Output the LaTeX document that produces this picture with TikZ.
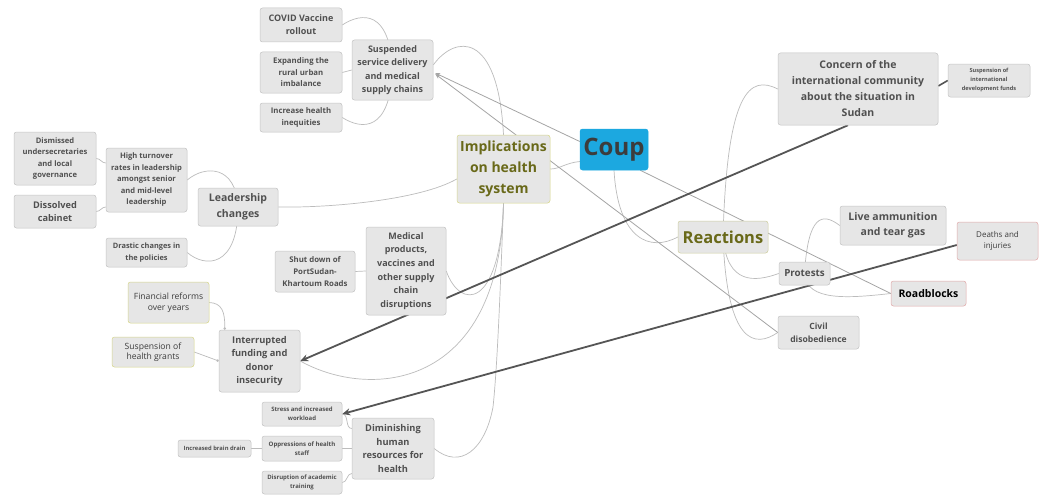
\documentclass[tikz,border=0pt]{standalone}
\usepackage{fontspec}
\setmainfont{Open Sans}
\usetikzlibrary{arrows.meta,backgrounds,calc}
\definecolor{bf}{RGB}{230,230,230}
\definecolor{bd}{RGB}{196,196,196}
\definecolor{tx}{RGB}{80,80,80}
\definecolor{coupblue}{RGB}{28,168,224}
\definecolor{coupt}{RGB}{60,60,60}
\definecolor{myolive}{RGB}{105,105,25}
\definecolor{yelbd}{RGB}{215,215,140}
\definecolor{redbd}{RGB}{225,170,170}
\definecolor{branch}{RGB}{188,188,188}
\definecolor{rel}{RGB}{165,165,165}
\definecolor{darkln}{RGB}{85,85,85}
\newcommand\myfz[2]{\fontsize{#1}{#2}\selectfont}
\tikzset{
  box/.style={draw=bd, fill=bf, rounded corners=2.5pt, align=center, inner sep=1pt, text=tx, line width=0.5pt},
  sz/.style 2 args={minimum width=#1pt, minimum height=#2pt},
  br/.style={draw=branch, line width=0.7pt},
  relarrow/.style={draw=rel, line width=0.8pt, -{Stealth[length=5pt,width=4pt]}},
  thickarrow/.style={draw=darkln, line width=1.8pt, -{Stealth[length=8pt,width=7pt]}},
  dotend/.style={draw=branch, line width=0.7pt, -{Circle[length=2.5pt,fill=rel]}}
}
\begin{document}
\begin{tikzpicture}[x=1pt,y=-1pt]
\useasboundingbox (0,0) rectangle (1040,495);
% central
\node[box, sz={68}{41}, fill=coupblue, draw=coupblue, font=\myfz{24}{28}\bfseries, text=coupt] (coup) at (614,149.5) {Coup};
\node[box, sz={93}{68}, draw=yelbd, text=myolive, font=\myfz{14}{21}\bfseries] (impl) at (503.5,169) {Implications\\on health\\system};
\node[box, sz={90}{32}, draw=yelbd!60!bd, text=myolive, font=\myfz{16.5}{20}\bfseries] (react) at (723,237) {Reactions};
% suspended branch
\node[box, sz={81}{60}, font=\myfz{9}{13.5}\bfseries] (susp) at (392.5,70) {Suspended\\service delivery\\and medical\\supply chains};
\node[box, sz={82}{34}, font=\myfz{9}{13}\bfseries] (covid) at (301,25) {COVID Vaccine\\rollout};
\node[box, sz={82}{41}, font=\myfz{7.8}{11.5}\bfseries] (expand) at (301,72.5) {Expanding the\\rural urban\\imbalance};
\node[box, sz={82}{29}, font=\myfz{7.8}{11.5}\bfseries] (ineq) at (301,117.5) {Increase health\\inequities};
% leadership branch
\node[box, sz={80}{38}, font=\myfz{10.5}{16}\bfseries] (lead) at (238,207) {Leadership\\changes};
\node[box, sz={81}{64}, font=\myfz{7.6}{11.5}\bfseries] (high) at (146.5,180) {High turnover\\rates in leadership\\amongst senior\\and mid-level\\leadership};
\node[box, sz={82}{53}, font=\myfz{7.6}{11.5}\bfseries] (dism) at (55,158.5) {Dismissed\\undersecretaries\\and local\\governance};
\node[box, sz={82}{33}, font=\myfz{9.2}{13.5}\bfseries] (dissolved) at (55,211.5) {Dissolved\\cabinet};
\node[box, sz={81}{29}, font=\myfz{7.4}{11.5}\bfseries] (drastic) at (146.5,252.5) {Drastic changes in\\the policies};
% medical branch
\node[box, sz={80}{88}, font=\myfz{9}{13.7}\bfseries] (med) at (406,271) {Medical\\products,\\vaccines and\\other supply\\chain\\disruptions};
\node[box, sz={80}{41}, font=\myfz{7.8}{11.7}\bfseries] (shut) at (315,271.5) {Shut down of\\PortSudan-\\Khartoum Roads};
% funding branch
\node[box, sz={81}{62}, font=\myfz{9.3}{13.5}\bfseries] (interr) at (259.5,361) {Interrupted\\funding and\\donor\\insecurity};
\node[box, sz={81}{41}, draw=yelbd, font=\myfz{8.6}{10.5}, text=coupt] (fin) at (168.5,302.5) {Financial reforms\\over years};
\node[box, sz={82}{30}, draw=yelbd, font=\myfz{8.6}{10}, text=coupt] (grants) at (153,352) {Suspension of\\health grants};
% human resources branch
\node[box, sz={82}{61}, font=\myfz{9.3}{13.9}\bfseries] (dimin) at (393,448.5) {Diminishing\\human\\resources for\\health};
\node[box, sz={80}{24}, font=\myfz{6}{9.3}\bfseries] (stress) at (302,414) {Stress and increased\\workload};
\node[box, sz={80}{25}, font=\myfz{6.1}{9.3}\bfseries] (oppr) at (302,448.5) {Oppressions of health\\staff};
\node[box, sz={73}{17}, font=\myfz{5.8}{8}\bfseries] (brain) at (214.5,448.5) {Increased brain drain};
\node[box, sz={80}{23}, font=\myfz{6}{9.3}\bfseries] (disr) at (302,482.5) {Disruption of academic\\training};
% reactions side
\node[box, sz={160}{72}, font=\myfz{10.5}{16}\bfseries] (concern) at (858,89) {Concern of the\\international community\\about the situation in\\Sudan};
\node[box, sz={82}{33}, font=\myfz{5.6}{9}\bfseries] (susfunds) at (989,80.5) {Suspension of\\international\\development funds};
\node[box, sz={51}{23}, font=\myfz{9.8}{12}\bfseries] (protests) at (804.5,273.5) {Protests};
\node[box, sz={106}{39}, font=\myfz{10.5}{15}\bfseries] (live) at (893,225.5) {Live ammunition\\and tear gas};
\node[box, sz={81}{38}, draw=redbd, font=\myfz{8}{10.7}, text=coupt] (deaths) at (997.5,241) {Deaths and\\injuries};
\node[box, sz={75}{25}, draw=redbd, font=\myfz{10.5}{12}\bfseries, text=black] (road) at (928.5,293.5) {Roadblocks};
\node[box, sz={81}{33}, font=\myfz{8.6}{13}\bfseries] (civil) at (818.5,332.5) {Civil\\disobedience};

\begin{pgfonlayer}{background}
\fill[white] (0,0) rectangle (1040,495);
% branches from Coup
\path[br] ($(coup.west)+(0,12)$) .. controls (565,163) and (560,169) .. (impl.east);
\path[br] (coup.south) .. controls (618,240) and (650,252) .. (react.west);
% Reactions branches
\path[br] (react.center) .. controls (727,90) and (750,75) .. (concern.west);
\path[br] (react.center) .. controls (727,345) and (755,348) .. (civil.west);
\path[br] (react.center) .. controls (727,285) and (755,282) .. (protests.west);
\path[br] (protests.center) .. controls (808,215) and (822,212) .. (live.west);
\path[br] (protests.center) .. controls (806,302) and (850,298) .. (road.west);
\draw[draw=darkln, line width=1.6pt] ($(concern.east)+(0,-3)$) -- (susfunds.west);
% Implications branches
\path[br] (impl.north) .. controls (498,30) and (455,35) .. ($(susp.east)+(0,-5)$);
\path[br] ($(impl.west)+(0,10)$) .. controls (420,200) and (330,208) .. (lead.east);
\path[br] (impl.south) .. controls (500,310) and (460,310) .. (med.east);
\path[br] (impl.south) .. controls (500,390) and (370,400) .. (interr.east);
\path[br] (impl.south) .. controls (500,300) and (497,370) .. (493,407) .. controls (485,450) and (460,470) .. (dimin.east);
% Suspended
\path[br] (susp.center) .. controls (390,10) and (362,12) .. (covid.east);
\path[br] (susp.west) -- (expand.east);
\path[br] (susp.center) .. controls (390,132) and (362,130) .. (ineq.east);
% Leadership
\path[br] (lead.center) .. controls (236,165) and (205,165) .. (high.east);
\path[br] (lead.center) .. controls (238,268) and (205,268) .. (drastic.east);
\path[br] ($(high.west)+(0,-17)$) to[out=180,in=0] (dism.east);
\path[br] ($(high.west)+(0,27)$) to[out=180,in=0] (dissolved.east);
% Medical
\path[br] (med.west) -- (shut.east);
% Funding
\path[dotend] (fin.east) .. controls (222,303) and (225,312) .. ($(interr.north west)+(6,0)$);
\path[dotend] (grants.east) -- (interr.west);
% Human resources
\path[br] ($(dimin.west)+(0,-20)$) to[out=180,in=0] (stress.east);
\path[br] (dimin.west) -- (oppr.east);
\path[br] ($(dimin.west)+(0,25)$) to[out=180,in=0] (disr.east);
\path[br] (oppr.west) -- (brain.east);
% relationships
\path[relarrow] ($(coup.west)+(0,-8)$) -- ($(susp.east)+(2,3)$);
\path[relarrow] (civil.west) -- ($(susp.east)+(2,4)$);
\path[draw=rel, line width=0.8pt] ($(coup.south east)+(-8,0)$) -- (road.west);
\path[thickarrow] ($(concern.south)+(-10,0)$) -- (interr.east);
\path[thickarrow] ($(deaths.west)+(0,4)$) -- (stress.east);
\end{pgfonlayer}
\end{tikzpicture}
\end{document}
